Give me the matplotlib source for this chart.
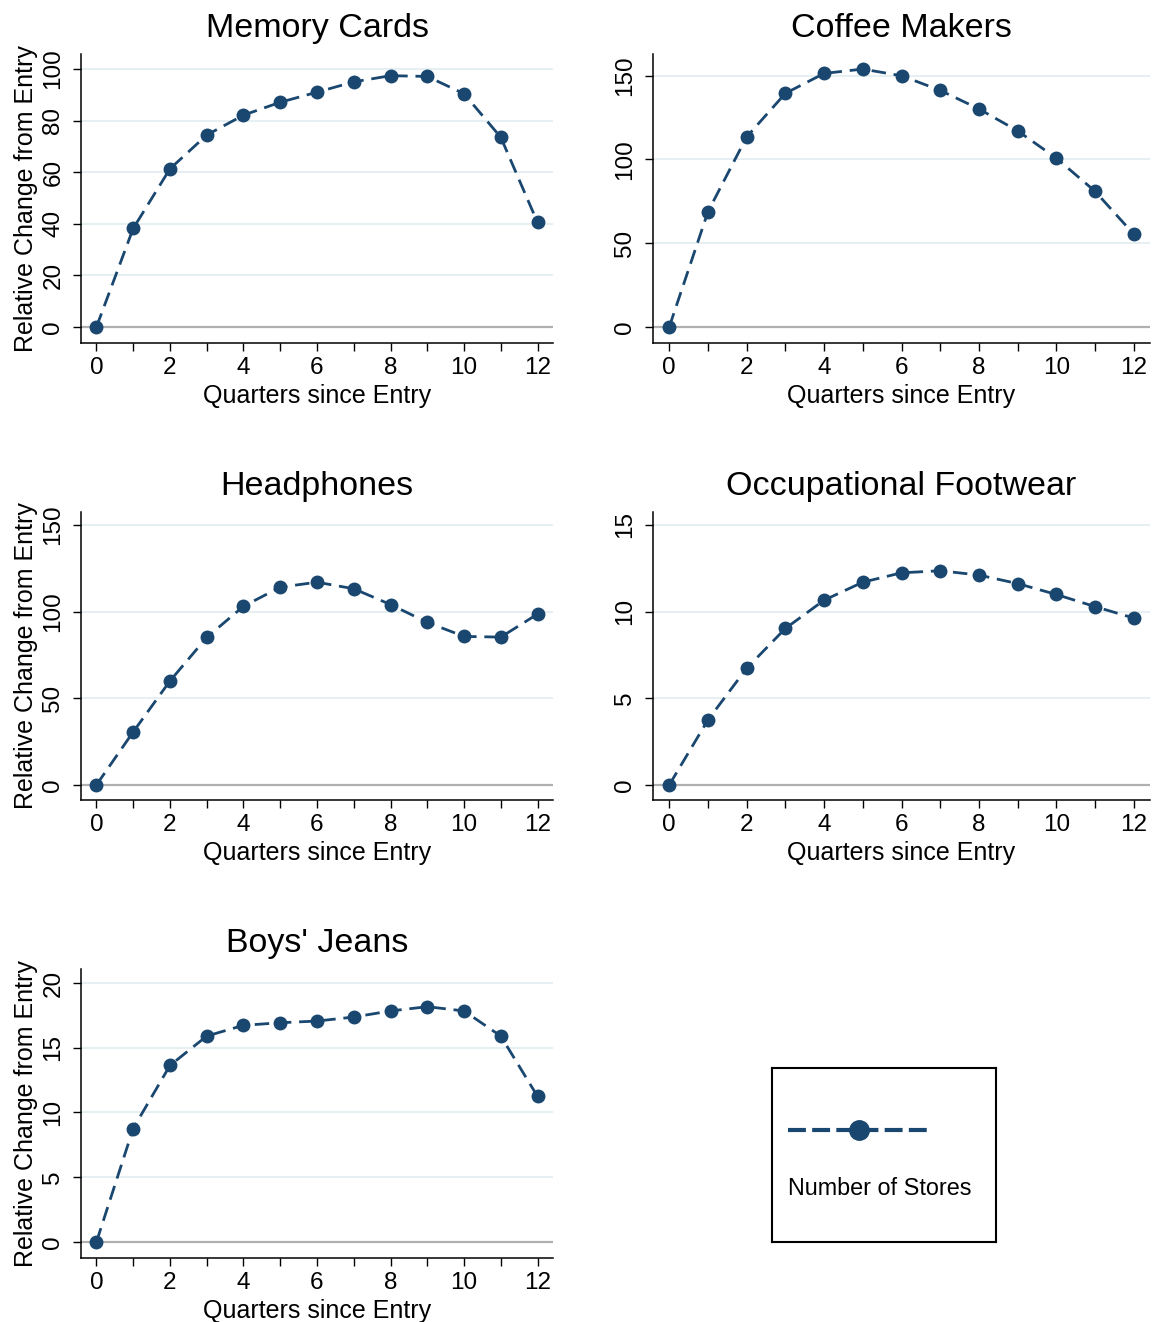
import matplotlib
matplotlib.use('Agg')
import matplotlib.pyplot as plt
from matplotlib.lines import Line2D

plt.rcParams['font.family'] = ['Liberation Sans', 'DejaVu Sans']

# quarters since entry
quarters = list(range(13))

# relative change from entry
memory_cards = [0, 38.2, 61.3, 74.4, 82.1, 87.1, 91.0, 95.0, 97.4, 97.1, 90.4, 73.5, 40.5]
coffee_makers = [0, 68.8, 113.5, 139.5, 151.4, 154.0, 150.0, 141.3, 130.2, 117.1, 100.8, 81.0, 55.4]
headphones = [0, 30.6, 60.0, 85.1, 103.1, 114.1, 117.0, 113.2, 104.1, 93.8, 85.7, 85.3, 98.6]
occ_footwear = [0, 3.75, 6.73, 9.03, 10.66, 11.70, 12.24, 12.36, 12.11, 11.62, 10.99, 10.29, 9.63]
boys_jeans = [0, 8.76, 13.63, 15.90, 16.73, 16.93, 17.06, 17.37, 17.84, 18.17, 17.84, 15.90, 11.24]

titles = ['Memory Cards', 'Coffee Makers', 'Headphones', 'Occupational Footwear', "Boys' Jeans"]
series = [memory_cards, coffee_makers, headphones, occ_footwear, boys_jeans]
yticks = [[0, 20, 40, 60, 80, 100],
          [0, 50, 100, 150],
          [0, 50, 100, 150],
          [0, 5, 10, 15],
          [0, 5, 10, 15, 20]]
ylims = [(-6.2, 105.8), (-9.6, 163), (-8.7, 157.5), (-0.87, 15.75), (-1.24, 21.08)]
xticks_labeled = [0, 2, 4, 6, 8, 10, 12]

navy = '#1a476f'
W, H = 1153, 1322

# pixel boxes (left, top, right, bottom)
boxes = [(81, 54, 553, 343),
         (653, 54, 1150, 343),
         (81, 512, 553, 800),
         (653, 512, 1150, 800),
         (81, 969, 553, 1258)]

fig = plt.figure(figsize=(W / 100, H / 100), dpi=100)

for i, (title, y) in enumerate(zip(titles, series)):
    l, t, r, b = boxes[i]
    ax = fig.add_axes([l / W, 1 - b / H, (r - l) / W, (b - t) / H])
    ax.set_xlim(-0.42, 12.42)
    ax.set_ylim(*ylims[i])
    for v in yticks[i]:
        if v != 0:
            ax.axhline(v, color='#e6eff1', lw=1.4, zorder=0)
    ax.axhline(0, color='#b0b0b0', lw=1.6, zorder=1)
    ax.plot(quarters, y, color=navy, lw=2.0, dashes=(5.2, 2.8),
            marker='o', markersize=9, zorder=3)
    ax.set_title(title, fontsize=24.5, pad=12)
    ax.set_xticks(quarters)
    ax.set_xticklabels([str(q) if q in xticks_labeled else '' for q in quarters],
                       fontsize=17.5)
    ax.set_yticks(yticks[i])
    ax.set_yticklabels([str(v) for v in yticks[i]], fontsize=17.5,
                       rotation=90, va='center')
    ax.tick_params(axis='both', direction='out', length=6, width=1, color='black')
    ax.tick_params(axis='x', pad=4)
    ax.tick_params(axis='y', pad=6)
    ax.set_xlabel('Quarters since Entry', fontsize=18, labelpad=4)
    if i % 2 == 0:
        ax.set_ylabel('Relative Change from Entry', fontsize=18, labelpad=3)
    ax.spines['top'].set_visible(False)
    ax.spines['right'].set_visible(False)
    ax.spines['left'].set_linewidth(1.1)
    ax.spines['bottom'].set_linewidth(1.1)

# legend box
lx0, ly0, lx1, ly1 = 772, 1068, 996, 1242
lax = fig.add_axes([lx0 / W, 1 - ly1 / H, (lx1 - lx0) / W, (ly1 - ly0) / H])
lax.set_xlim(0, 1)
lax.set_ylim(0, 1)
lax.set_xticks([])
lax.set_yticks([])
for s in lax.spines.values():
    s.set_linewidth(1.5)
key = Line2D([0.071, 0.705], [0.644, 0.644], color=navy, lw=3.0,
             dashes=(4.3, 1.5), transform=lax.transAxes)
lax.add_line(key)
lax.plot([0.388], [0.644], 'o', color=navy, markersize=14)
lax.text(0.071, 0.31, 'Number of Stores', fontsize=16.8, va='center', ha='left')

fig.savefig('out.png', dpi=100)
